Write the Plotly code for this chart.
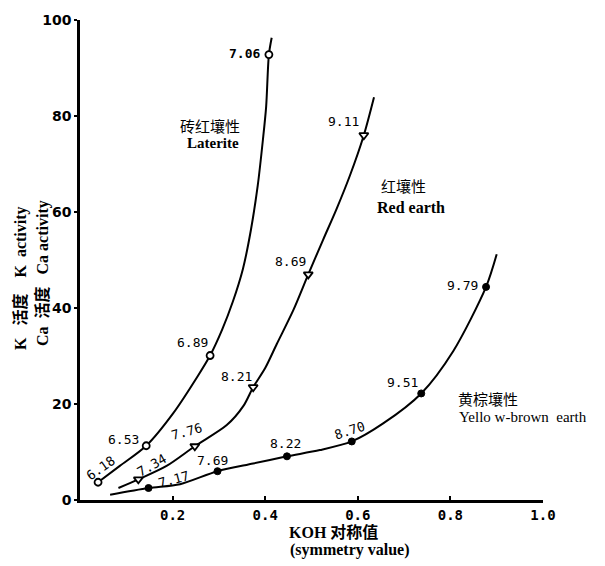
import plotly.graph_objects as go

# ---------------- data ----------------
# Laterite 砖红壤性 : open circles, labels are pH values
lat_x = [0.039, 0.143, 0.281, 0.408]
lat_y = [3.7, 11.3, 30.1, 92.8]
lat_ph = ["6.18", "6.53", "6.89", "7.06"]
lat_curve_x = [0.039, 0.086, 0.143, 0.2015, 0.2555, 0.281, 0.307, 0.330, 0.352, 0.369,
               0.384, 0.395, 0.402, 0.408, 0.414]
lat_curve_y = [3.7, 7.1, 11.3, 18.1, 26.0, 30.1, 35.5, 41.3, 48.2, 56.2,
               65.6, 75.0, 81.9, 92.8, 96.3]

# Red earth 红壤性 : open triangles
red_x = [0.126, 0.248, 0.374, 0.493, 0.613]
red_y = [4.3, 11.2, 23.5, 47.0, 76.0]
red_ph = ["7.34", "7.76", "8.21", "8.69", "9.11"]
red_curve_x = [0.083, 0.126, 0.187, 0.248, 0.317, 0.353, 0.374, 0.400, 0.425, 0.461,
               0.493, 0.525, 0.554, 0.583, 0.613, 0.635]
red_curve_y = [2.5, 4.3, 7.1, 11.2, 15.6, 19.6, 23.5, 27.5, 32.5, 39.6,
               47.0, 54.2, 60.6, 67.6, 76.0, 83.9]

# Yellow-brown earth 黄棕壤性 : filled circles
yb_x = [0.148, 0.297, 0.447, 0.587, 0.737, 0.877]
yb_y = [2.5, 6.0, 9.1, 12.2, 22.2, 44.4]
yb_ph = ["7.17", "7.69", "8.22", "8.70", "9.51", "9.79"]
yb_curve_x = [0.065, 0.148, 0.216, 0.297, 0.374, 0.447, 0.518, 0.587, 0.654, 0.737, 0.806, 0.877, 0.900]
yb_curve_y = [1.1, 2.5, 3.3, 6.0, 7.6, 9.1, 10.4, 12.2, 15.9, 22.2, 31.0, 44.4, 51.2]

x_ticks = [0.2, 0.4, 0.6, 0.8, 1.0]
x_tick_text = ["0.2", "0.4", "0.6", "0.8", "1.0"]
y_ticks = [0, 20, 40, 60, 80, 100]
y_tick_text = ["0", "20", "40", "60", "80", "100"]

# ---------------- styles ----------------
# label offsets in pixels (dx, dy screen-down) and text angles
lat_off = [(2, -14, -35), (-23, -6, 0), (-18, -13, 0), (-24, -1, 0)]
red_off = [(13, -14, -30), (-8, -15, -15), (-17, -11, 0), (-18, -13, 0), (-20, -14, 0)]
yb_off = [(25, -9, -15), (-5, -11, 0), (-1, -13, 0), (-2, -11, -18), (-19, -11, 0), (-24, -1, 0)]

W, H = 605, 566
ML, MR, MT, MB = 80, 62, 20, 66
PW = W - ML - MR
PH = H - MT - MB

fig = go.Figure()

line_style = dict(color="black", width=2, shape="spline", smoothing=0.8)

for cx, cy in [(lat_curve_x, lat_curve_y), (red_curve_x, red_curve_y), (yb_curve_x, yb_curve_y)]:
    fig.add_trace(go.Scatter(x=cx, y=cy, mode="lines", line=line_style,
                             hoverinfo="skip", showlegend=False))

fig.add_trace(go.Scatter(x=lat_x, y=lat_y, mode="markers", showlegend=False,
                         marker=dict(symbol="circle", size=7, color="white",
                                     line=dict(color="black", width=1.8))))
fig.add_trace(go.Scatter(x=red_x, y=red_y, mode="markers", showlegend=False,
                         marker=dict(symbol="triangle-down", size=8, color="white",
                                     line=dict(color="black", width=1.8))))
fig.add_trace(go.Scatter(x=yb_x, y=yb_y, mode="markers", showlegend=False,
                         marker=dict(symbol="circle", size=7, color="black",
                                     line=dict(color="black", width=1))))

label_font = dict(family="DejaVu Sans Mono", size=13, color="black")

def add_labels(xs, ys, texts, offs, bold_idx=()):
    for i, (x, y, t, o) in enumerate(zip(xs, ys, texts, offs)):
        f = dict(label_font)
        if i in bold_idx:
            f["weight"] = "bold"
        fig.add_annotation(x=x, y=y, text=t, showarrow=False, xshift=o[0], yshift=-o[1],
                           textangle=o[2], font=f, xanchor="center", yanchor="middle")

add_labels(lat_x, lat_y, lat_ph, lat_off, bold_idx=(3,))
add_labels(red_x, red_y, red_ph, red_off)
add_labels(yb_x, yb_y, yb_ph, yb_off)

def px2paper(px, py):
    return (px - ML) / PW, 1 - (py - MT) / PH

cjk = "Noto Sans CJK SC"
serif = "Liberation Serif"

texts = [
    ("砖红壤性", 210, 125, dict(family=cjk, size=15)),
    ("Laterite", 213, 143, dict(family=serif, size=15, weight="bold")),
    ("红壤性", 403, 185, dict(family=cjk, size=15)),
    ("Red earth", 411, 207, dict(family=serif, size=16, weight="bold")),
    ("黄棕壤性", 488, 398, dict(family=cjk, size=15)),
    ("Yello w-brown  earth", 523, 417, dict(family=serif, size=15)),
    ("KOH 对称值", 333, 532, dict(family=serif + ", " + cjk, size=16, weight="bold")),
    ("(symmetry value)", 350, 550, dict(family=serif, size=16, weight="bold")),
]
for t, px, py, f in texts:
    xp, yp = px2paper(px, py)
    f = dict(f, color="black")
    fig.add_annotation(xref="paper", yref="paper", x=xp, y=yp, text=t.replace("  ", "&nbsp;&nbsp;"),
                       showarrow=False, xanchor="center", yanchor="middle", font=f)

# rotated y-axis titles
for t, px, py in [("K&nbsp;&nbsp;&nbsp;活度&nbsp;&nbsp;&nbsp;&nbsp;K&nbsp;&nbsp;activity", 20, 278),
                  ("Ca&nbsp;&nbsp;活度&nbsp;&nbsp;&nbsp;Ca&nbsp;activity", 42, 273)]:
    xp, yp = px2paper(px, py)
    fig.add_annotation(xref="paper", yref="paper", x=xp, y=yp, text=t, textangle=-90,
                       showarrow=False, xanchor="center", yanchor="middle",
                       font=dict(family=serif + ", " + cjk, size=16, color="black", weight="bold"))

fig.update_xaxes(range=[0, 1.0], tickvals=x_ticks, ticktext=x_tick_text,
                 showgrid=False, zeroline=False, showline=True, linecolor="black", linewidth=2.5,
                 ticks="inside", ticklen=4, tickwidth=1.5, tickcolor="black",
                 tickfont=dict(family="DejaVu Sans Mono", size=14, color="black", weight="bold"))
fig.update_yaxes(range=[0, 100], tickvals=y_ticks, ticktext=y_tick_text,
                 showgrid=False, zeroline=False, showline=True, linecolor="black", linewidth=2.5,
                 ticks="outside", ticklen=3, tickwidth=1.5, tickcolor="black",
                 tickfont=dict(family="Liberation Sans Narrow, DejaVu Sans", size=14, color="black", weight="bold"))

fig.update_layout(width=W, height=H, margin=dict(l=ML, r=MR, t=MT, b=MB),
                  plot_bgcolor="white", paper_bgcolor="white", showlegend=False)

fig.write_html("out.html")
